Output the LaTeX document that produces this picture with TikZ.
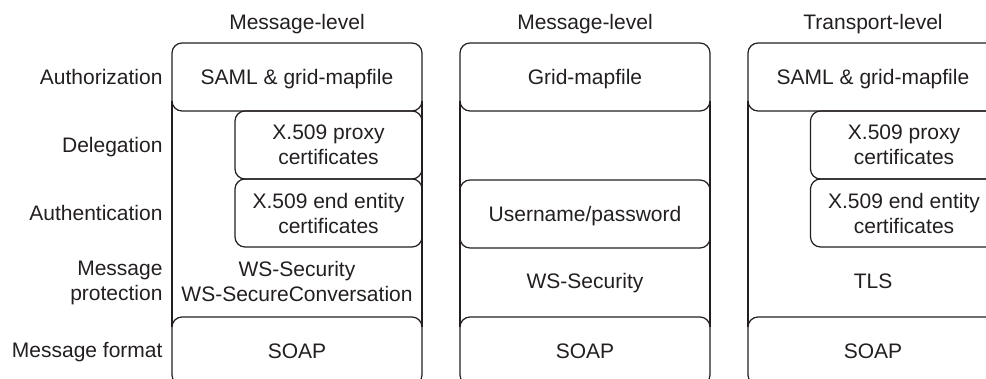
\documentclass[tikz,border=0pt]{standalone}
\usepackage{fontspec}
\setmainfont{Liberation Sans}
\definecolor{ink}{HTML}{231F20}
\begin{document}
\begin{tikzpicture}[x=1pt,y=-1pt,
  every node/.style={font=\fontsize{21}{25}\selectfont, text=ink, inner sep=0pt, outer sep=0pt},
  box/.style={draw=ink, line width=1.2pt, rounded corners=10pt, align=center, minimum height=68pt},
  wide/.style={minimum width=250pt},
  narrow/.style={minimum width=187pt},
  oneline/.style={text height=15pt, text depth=0pt},
  lbl/.style={anchor=east, align=right},
  side/.style={draw=ink, line width=1.2pt}]
\useasboundingbox (0,0) rectangle (986,379);
\clip (0,0) rectangle (986,379);

% column headers
\node[oneline] (h1) at (297,22.5) {Message-level};
\node[oneline] (h2) at (585,22.5) {Message-level};
\node[oneline] (h3) at (873,22.5) {Transport-level};

% row labels
\node[lbl, oneline] (lauth) at (162.5,77) {Authorization};
\node[lbl, oneline] (ldel) at (162.5,145) {Delegation};
\node[lbl, oneline] (lauthn) at (162.5,213) {Authentication};
\node[lbl, text depth=0pt] (lprot) at (162.5,281) {Message\\protection};
\node[lbl, oneline] (lfmt) at (162.5,350) {Message format};

% column 1
\node[box, wide, oneline] (c1auth) at (297,77) {SAML \& grid-mapfile};
\node[box, narrow] (c1del) at (328.5,145) {X.509 proxy\\certificates};
\node[box, narrow] (c1authn) at (328.5,213) {X.509 end entity\\certificates};
\node[align=center] (c1prot) at (297,281) {WS-Security\\WS-SecureConversation};
\node[box, wide, oneline] (c1soap) at (297,351) {SOAP};

% column 2
\node[box, wide, oneline] (c2auth) at (585,77) {Grid-mapfile};
\node[box, wide, oneline] (c2authn) at (585,214) {Username/password};
\node[oneline] (c2prot) at (585,281.5) {WS-Security};
\node[box, wide, oneline] (c2soap) at (585,351) {SOAP};

% column 3
\node[box, wide, oneline] (c3auth) at (873,77) {SAML \& grid-mapfile};
\node[box, narrow] (c3del) at (904,145) {X.509 proxy\\certificates};
\node[box, narrow] (c3authn) at (904,213) {X.509 end entity\\certificates};
\node[oneline] (c3prot) at (873,281.5) {TLS};
\node[box, wide, oneline] (c3soap) at (873,351) {SOAP};

% column sides
\foreach \t/\b in {c1auth/c1soap, c2auth/c2soap, c3auth/c3soap} {
  \draw[side] ([yshift=10pt]\t.south west) -- ([yshift=-10pt]\b.north west);
  \draw[side] ([yshift=10pt]\t.south east) -- ([yshift=-10pt]\b.north east);
}
\end{tikzpicture}
\end{document}
